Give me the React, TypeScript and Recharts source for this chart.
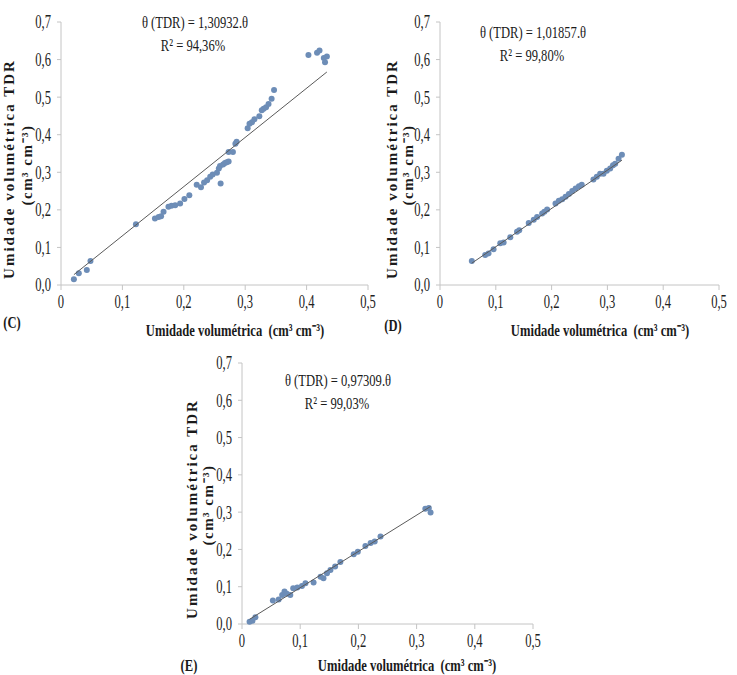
import { ScatterChart, Scatter, XAxis, YAxis } from 'recharts';

const xTicks = [0, 0.1, 0.2, 0.3, 0.4, 0.5];
const xTickLabels = ['0', '0,1', '0,2', '0,3', '0,4', '0,5'];
const yTicks = [0, 0.1, 0.2, 0.3, 0.4, 0.5, 0.6, 0.7];
const yTickLabels = ['0,0', '0,1', '0,2', '0,3', '0,4', '0,5', '0,6', '0,7'];

// (C)
const cTheta = [0.021, 0.029, 0.042, 0.048, 0.122, 0.153, 0.159, 0.163, 0.167, 0.175, 0.18, 0.186, 0.194, 0.201, 0.209, 0.221, 0.228, 0.233, 0.238, 0.243, 0.247, 0.254, 0.257, 0.259, 0.26, 0.264, 0.267, 0.27, 0.273, 0.273, 0.28, 0.284, 0.286, 0.304, 0.307, 0.311, 0.315, 0.323, 0.327, 0.33, 0.334, 0.338, 0.343, 0.347, 0.403, 0.417, 0.421, 0.428, 0.43, 0.433];
const cTdr = [0.015, 0.031, 0.04, 0.064, 0.162, 0.177, 0.181, 0.183, 0.195, 0.208, 0.211, 0.212, 0.217, 0.229, 0.239, 0.267, 0.26, 0.273, 0.279, 0.288, 0.294, 0.299, 0.31, 0.317, 0.27, 0.321, 0.325, 0.327, 0.329, 0.354, 0.354, 0.376, 0.381, 0.417, 0.429, 0.433, 0.441, 0.449, 0.465, 0.469, 0.473, 0.482, 0.496, 0.519, 0.612, 0.618, 0.624, 0.604, 0.593, 0.608];

// (D)
const dTheta = [0.057, 0.081, 0.087, 0.096, 0.108, 0.114, 0.126, 0.138, 0.142, 0.159, 0.168, 0.174, 0.183, 0.187, 0.192, 0.207, 0.213, 0.219, 0.225, 0.231, 0.237, 0.243, 0.249, 0.254, 0.275, 0.281, 0.287, 0.293, 0.299, 0.305, 0.31, 0.314, 0.32, 0.326];
const dTdr = [0.064, 0.08, 0.084, 0.095, 0.111, 0.113, 0.127, 0.142, 0.146, 0.165, 0.174, 0.181, 0.19, 0.195, 0.201, 0.217, 0.224, 0.228, 0.235, 0.242, 0.25, 0.257, 0.263, 0.267, 0.281, 0.288, 0.296, 0.296, 0.304, 0.31, 0.319, 0.323, 0.336, 0.347];

// (E)
const eTheta = [0.013, 0.018, 0.023, 0.053, 0.063, 0.069, 0.073, 0.077, 0.083, 0.088, 0.095, 0.103, 0.109, 0.123, 0.135, 0.14, 0.146, 0.152, 0.16, 0.169, 0.192, 0.199, 0.212, 0.221, 0.228, 0.238, 0.315, 0.321, 0.324];
const eTdr = [0.006, 0.009, 0.018, 0.063, 0.066, 0.078, 0.087, 0.081, 0.078, 0.096, 0.098, 0.102, 0.109, 0.111, 0.127, 0.123, 0.136, 0.145, 0.154, 0.166, 0.187, 0.194, 0.209, 0.217, 0.221, 0.235, 0.309, 0.311, 0.299];

const slopes = { C: 1.30932, D: 1.01857, E: 0.97309 };

const serif = '"Liberation Serif", "Times New Roman", serif';
const dotColor = '#6d8db7';

function toPoints(xs: number[], ys: number[]) {
  return xs.map((x, i) => ({ x, y: ys[i] }));
}

function fitLine(xs: number[], slope: number) {
  const lo = Math.min(...xs);
  const hi = Math.max(...xs);
  return [
    { x: lo, y: lo * slope },
    { x: hi, y: hi * slope },
  ];
}

const XTick = (props: any) => {
  const { x, y, payload } = props;
  const label = xTickLabels[xTicks.indexOf(payload.value)];
  return (
    <g transform={`translate(${x},${y})`}>
      <text transform="scale(0.7,1)" textAnchor="middle" dy="0.71em" fontSize={18} fontFamily={serif} fill="#222">
        {label}
      </text>
    </g>
  );
};

const YTick = (props: any) => {
  const { x, y, payload } = props;
  const label = yTickLabels[yTicks.indexOf(payload.value)];
  return (
    <g transform={`translate(${x},${y})`}>
      <text transform="scale(0.7,1)" textAnchor="end" dy="0.36em" fontSize={18} fontFamily={serif} fill="#222">
        {label}
      </text>
    </g>
  );
};

const noDot = () => <g />;

function Panel({ left, top, width, height, margin, pts, line }: any) {
  return (
    <div style={{ position: 'absolute', left, top }}>
      <ScatterChart width={width} height={height} margin={margin}>
        <XAxis
          type="number"
          dataKey="x"
          domain={[0, 0.5]}
          ticks={xTicks}
          height={30}
          stroke="#c4c4c4"
          tickSize={5}
          tickMargin={5}
          tick={<XTick />}
        />
        <YAxis
          type="number"
          dataKey="y"
          domain={[0, 0.7]}
          ticks={yTicks}
          width={30}
          stroke="#c4c4c4"
          tickSize={4}
          tickMargin={6}
          tick={<YTick />}
        />
        <Scatter data={pts} fill={dotColor} isAnimationActive={false} shape={(p: any) => <circle cx={p.cx} cy={p.cy} r={3} fill={dotColor} />} />
        <Scatter data={line} line={{ stroke: '#5a5a5a', strokeWidth: 1 }} shape={noDot} isAnimationActive={false} />
      </ScatterChart>
    </div>
  );
}

function Txt({ x, y, children, bold, size = 17, sx = 0.74 }: any) {
  return (
    <div
      style={{
        position: 'absolute',
        left: x,
        top: y,
        transform: `translate(-50%, -50%) scaleX(${sx})`,
        whiteSpace: 'pre',
        fontFamily: serif,
        fontSize: size,
        fontWeight: bold ? 'bold' : 'normal',
        color: '#1a1a1a',
        lineHeight: 1,
      }}
    >
      {children}
    </div>
  );
}

function YLabel({ x1, x2, y1, y2 }: any) {
  const style: any = {
    position: 'absolute',
    whiteSpace: 'nowrap',
    fontFamily: serif,
    fontSize: 15,
    fontWeight: 'bold',
    letterSpacing: 2,
    color: '#1a1a1a',
    lineHeight: 1,
  };
  return (
    <>
      <div style={{ ...style, left: x1, top: y1, transform: 'translate(-50%, -50%) rotate(-90deg)' }}>
        Umidade volumétrica TDR
      </div>
      <div style={{ ...style, letterSpacing: 1.5, left: x2, top: y2, transform: 'translate(-50%, -50%) rotate(-90deg)' }}>
        (cm³ cm⁻³)
      </div>
    </>
  );
}

const xTitle = 'Umidade volumétrica  (cm³ cm⁻³)';

export default function App() {
  return (
    <div style={{ position: 'absolute', left: 0, top: 0, width: 737, height: 675, background: '#fff', overflow: 'hidden' }}>
      <Panel
        left={0}
        top={0}
        width={380}
        height={320}
        margin={{ top: 22, right: 12, left: 31, bottom: 5 }}
        pts={toPoints(cTheta, cTdr)}
        line={fitLine(cTheta, slopes.C)}
      />
      <Panel
        left={370}
        top={0}
        width={367}
        height={320}
        margin={{ top: 22, right: 18, left: 40, bottom: 5 }}
        pts={toPoints(dTheta, dTdr)}
        line={fitLine(dTheta, slopes.D)}
      />
      <Panel
        left={170}
        top={340}
        width={380}
        height={320}
        margin={{ top: 23, right: 17, left: 42, bottom: 6 }}
        pts={toPoints(eTheta, eTdr)}
        line={fitLine(eTheta, slopes.E)}
      />

      <Txt x={195} y={22}>θ (TDR) = 1,30932.θ</Txt>
      <Txt x={193} y={45}>R² = 94,36%</Txt>
      <Txt x={533} y={32}>θ (TDR) = 1,01857.θ</Txt>
      <Txt x={532} y={55}>R² = 99,80%</Txt>
      <Txt x={338} y={380}>θ (TDR) = 0,97309.θ</Txt>
      <Txt x={337} y={403}>R² = 99,03%</Txt>

      <Txt x={12} y={322} bold>(C)</Txt>
      <Txt x={393} y={325} bold>(D)</Txt>
      <Txt x={189} y={665} bold>(E)</Txt>

      <Txt x={235} y={330} bold>{xTitle}</Txt>
      <Txt x={600} y={330} bold>{xTitle}</Txt>
      <Txt x={407} y={665} bold>{xTitle}</Txt>

      <YLabel x1={9} x2={27} y1={169} y2={165} />
      <YLabel x1={392} x2={408} y1={169} y2={165} />
      <YLabel x1={192} x2={208} y1={509} y2={505} />
    </div>
  );
}
